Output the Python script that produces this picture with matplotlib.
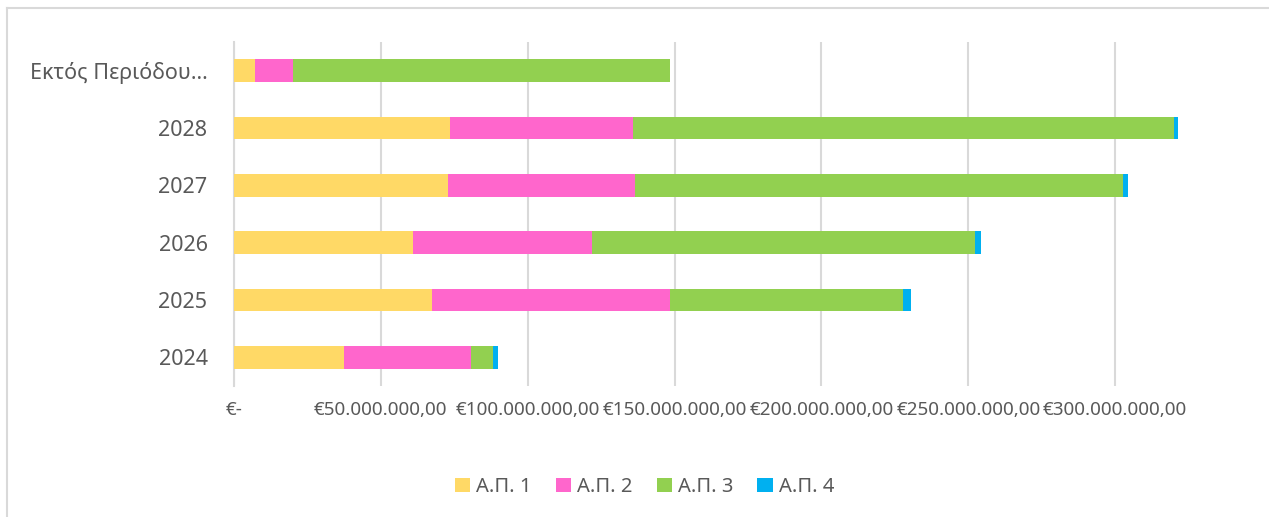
"""Οριζόντιο σωρευτικό ραβδόγραμμα ανά έτος και Α.Π."""

import matplotlib

matplotlib.use("Agg")
import matplotlib.pyplot as plt
from matplotlib.lines import Line2D
from matplotlib.ticker import FuncFormatter

# ---- δεδομένα (εκατ. €), από κάτω προς τα πάνω ----
categories = ["2024", "2025", "2026", "2027", "2028", "Εκτός Περιόδου…"]
ap1 = [37.4, 67.3, 61.1, 73.0, 73.7, 7.0]
ap2 = [43.4, 81.0, 60.9, 63.6, 62.0, 13.1]
ap3 = [7.5, 79.5, 130.4, 166.0, 184.4, 128.5]
ap4 = [1.6, 2.6, 1.9, 1.9, 1.4, 0.0]
series_names = ["Α.Π. 1", "Α.Π. 2", "Α.Π. 3", "Α.Π. 4"]
tick_values = [0, 50, 100, 150, 200, 250, 300]

colors = ["#FFD966", "#FF66CC", "#92D050", "#00B0F0"]
TEXT = "#595959"
GRID = "#D9D9D9"

plt.rcParams["font.family"] = ["Noto Sans", "DejaVu Sans"]


def euro(v, _pos=None):
    if v == 0:
        return "€-"
    s = f"{v * 1e6:,.2f}"
    s = s.replace(",", "X").replace(".", ",").replace("X", ".")
    return "€" + s


fig = plt.figure(figsize=(12.69, 5.17), dpi=100)
ax = fig.add_axes([234 / 1269, 1 - 386 / 517, (1262 - 234) / 1269, (386 - 42) / 517])

y = range(len(categories))
left = [0.0] * len(categories)
for vals, name, col in zip([ap1, ap2, ap3, ap4], series_names, colors):
    ax.barh(y, vals, left=left, height=0.4, color=col, label=name, zorder=3)
    left = [a + b for a, b in zip(left, vals)]

ax.set_xlim(0, 350)
ax.set_ylim(-0.5, len(categories) - 0.5)
ax.set_xticks(tick_values)
ax.xaxis.set_major_formatter(FuncFormatter(euro))
ax.set_yticks(list(y))
ax.set_yticklabels(categories)

ax.grid(axis="x", color=GRID, lw=1.5, zorder=0)
ax.tick_params(axis="x", length=0, pad=11, labelsize=13.6, labelcolor=TEXT)
ax.tick_params(axis="y", length=0, pad=19, labelsize=15.5, labelcolor=TEXT)
for side in ["top", "right", "bottom"]:
    ax.spines[side].set_visible(False)
ax.spines["left"].set_color(GRID)
ax.spines["left"].set_linewidth(1.5)

fig.legend(
    loc="center",
    bbox_to_anchor=(0.508, 1 - 487 / 517),
    ncol=4,
    frameon=False,
    fontsize=14.5,
    labelcolor=TEXT,
    handlelength=0.75,
    handleheight=0.75,
    handletextpad=0.3,
    columnspacing=1.2,
)

# περίγραμμα γραφήματος (μόνο αριστερά και πάνω φαίνονται)
fig.add_artist(Line2D([7 / 1269, 7 / 1269], [0, 1 - 8 / 517], color=GRID, lw=1.5))
fig.add_artist(Line2D([7 / 1269, 1], [1 - 8 / 517, 1 - 8 / 517], color=GRID, lw=1.5))

fig.savefig("out.png", dpi=100)
